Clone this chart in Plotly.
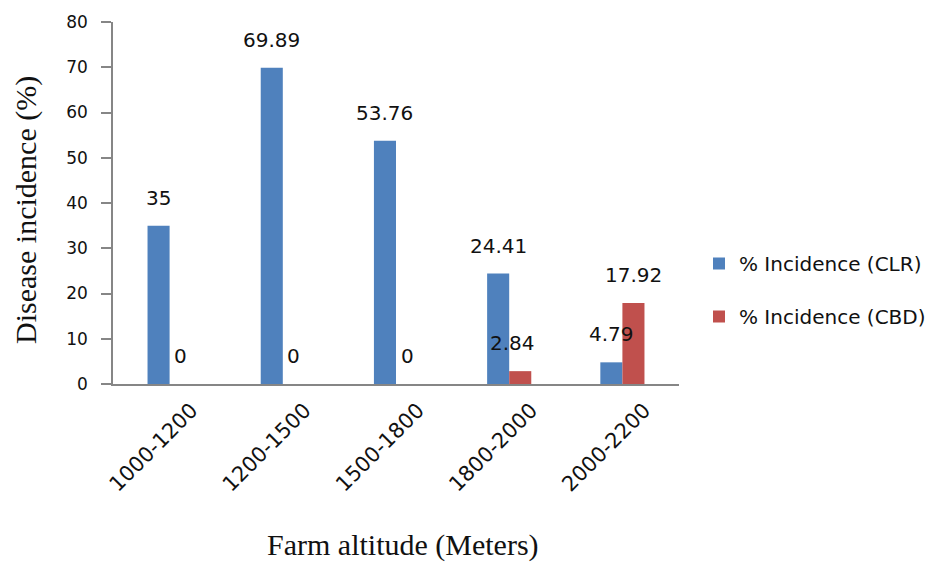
import plotly.graph_objects as go

categories = ["1000-1200", "1200-1500", "1500-1800", "1800-2000", "2000-2200"]
clr_values = [35, 69.89, 53.76, 24.41, 4.79]
cbd_values = [0, 0, 0, 2.84, 17.92]
clr_labels = ["35", "69.89", "53.76", "24.41", "4.79"]
cbd_labels = ["0", "0", "0", "2.84", "17.92"]
y_ticks = [0, 10, 20, 30, 40, 50, 60, 70, 80]

BLUE = "#4F81BD"
RED = "#C0504D"
AXIS = "#868686"
BARGAP = 0.61

# page body has an 8px margin, so the figure is laid out 8px up/left of the screen target
OFF = 8
L, T, PW, PH = 113 - OFF, 22 - OFF, 566, 362
W, H = 934, 562


def px_x(sx):
    return (sx - OFF - L) / PW


def px_y(sy):
    return (T + PH - (sy - OFF)) / PH


fig = go.Figure()
fig.add_trace(go.Bar(x=categories, y=clr_values, name="% Incidence (CLR)",
                     marker=dict(color=BLUE, line=dict(width=0)), legendgroup="a"))
fig.add_trace(go.Bar(x=categories, y=cbd_values, name="% Incidence (CBD)",
                     marker=dict(color=RED, line=dict(width=0)), legendgroup="b"))

w = (1 - BARGAP) / 2
lab_font = dict(family="DejaVu Sans", size=20, color="#111")
annotations = []
for i, (v, t) in enumerate(zip(clr_values, clr_labels)):
    annotations.append(dict(x=i - w / 2, y=v, xref="x", yref="y", text=t, showarrow=False,
                            yshift=28, font=lab_font))
for i, (v, t) in enumerate(zip(cbd_values, cbd_labels)):
    annotations.append(dict(x=i + w / 2, y=v, xref="x", yref="y", text=t, showarrow=False,
                            yshift=28, xshift=-8 if v > 0 and v < 5 else 0, font=lab_font))

# axis titles
title_font = dict(family="Liberation Serif", size=30, color="#111")
annotations.append(dict(x=px_x(403), y=px_y(545), xref="paper", yref="paper",
                        text="Farm altitude (Meters)", showarrow=False, yanchor="middle",
                        font=title_font))
annotations.append(dict(x=px_x(26), y=px_y(210), xref="paper", yref="paper",
                        text="Disease incidence (%)", showarrow=False, textangle=-90,
                        xanchor="center", yanchor="middle", font=title_font))

fig.update_layout(
    width=W, height=H,
    margin=dict(l=L, r=W - L - PW, t=T, b=H - T - PH, autoexpand=False),
    paper_bgcolor="white", plot_bgcolor="white",
    barmode="group", bargap=BARGAP, bargroupgap=0,
    annotations=annotations,
    showlegend=True,
    legend=dict(x=px_x(713 - 14), y=px_y(290), xanchor="left", yanchor="middle",
                font=dict(family="DejaVu Sans", size=20, color="#111"),
                tracegroupgap=24, bgcolor="rgba(0,0,0,0)"),
    xaxis=dict(type="category", range=[-0.5, 4.5], showline=True, linecolor=AXIS, linewidth=1.5,
               ticks="", tickangle=-45, showgrid=False, zeroline=False,
               ticklabelshift=22, ticklabelstandoff=4,
               tickfont=dict(family="DejaVu Sans", size=21, color="#111")),
    yaxis=dict(range=[0, 80], tickvals=y_ticks, showline=True, linecolor=AXIS, linewidth=1.5,
               ticks="outside", ticklen=10, tickcolor=AXIS, tickwidth=1.5,
               showgrid=False, zeroline=False, ticklabelstandoff=10,
               tickfont=dict(family="DejaVu Sans", size=17, color="#111")),
)

fig.write_html("out.html")
